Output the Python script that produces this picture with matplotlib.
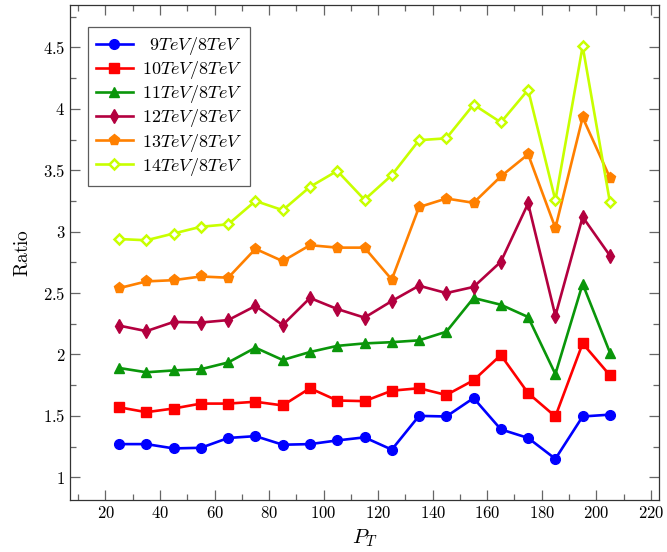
import matplotlib
matplotlib.use('Agg')
import matplotlib.pyplot as plt
from matplotlib.ticker import MultipleLocator, FuncFormatter

plt.rcParams['mathtext.fontset'] = 'cm'
plt.rcParams['font.family'] = 'serif'
plt.rcParams['font.serif'] = ['DejaVu Serif']

pt = [25, 35, 45, 55, 65, 75, 85, 95, 105, 115, 125, 135, 145, 155, 165, 175, 185, 195, 205]

r9 = [1.27, 1.27, 1.235, 1.24, 1.32, 1.335, 1.265, 1.27, 1.30, 1.325, 1.225,
      1.50, 1.495, 1.645, 1.39, 1.32, 1.15, 1.495, 1.51]
r10 = [1.57, 1.53, 1.56, 1.60, 1.60, 1.615, 1.585, 1.725, 1.625, 1.62, 1.705,
       1.725, 1.67, 1.79, 1.995, 1.685, 1.495, 2.09, 1.83]
r11 = [1.89, 1.855, 1.87, 1.88, 1.935, 2.055, 1.955, 2.02, 2.07, 2.09, 2.10,
       2.115, 2.185, 2.46, 2.405, 2.305, 1.84, 2.575, 2.015]
r12 = [2.235, 2.19, 2.265, 2.26, 2.28, 2.395, 2.24, 2.46, 2.37, 2.30, 2.435,
       2.56, 2.50, 2.55, 2.755, 3.23, 2.315, 3.12, 2.805]
r13 = [2.54, 2.595, 2.605, 2.635, 2.625, 2.86, 2.76, 2.89, 2.87, 2.87, 2.61,
       3.20, 3.27, 3.235, 3.45, 3.63, 3.03, 3.93, 3.44]
r14 = [2.94, 2.93, 2.985, 3.04, 3.06, 3.25, 3.175, 3.365, 3.495, 3.26, 3.46,
       3.745, 3.76, 4.035, 3.89, 4.155, 3.255, 4.51, 3.24]

labels = [r'$\ \,9TeV/8TeV$', r'$10TeV/8TeV$', r'$11TeV/8TeV$',
          r'$12TeV/8TeV$', r'$13TeV/8TeV$', r'$14TeV/8TeV$']

fig = plt.figure(figsize=(6.67, 5.52), dpi=100)
ax = fig.add_axes([0.105, 0.094, 0.883, 0.897])

ax.plot(pt, r9, color='#0000ff', marker='o', ms=7, lw=1.9, label=labels[0])
ax.plot(pt, r10, color='#ff0000', marker='s', ms=7, lw=1.9, label=labels[1])
ax.plot(pt, r11, color='#0a960a', marker='^', ms=7.5, lw=1.9, label=labels[2])
ax.plot(pt, r12, color='#b3003f', marker='d', ms=7.5, lw=1.9, label=labels[3])
ax.plot(pt, r13, color='#ff8000', marker='p', ms=8, lw=1.9, label=labels[4])
ax.plot(pt, r14, color='#c8ff00', marker='D', ms=5.5, mfc='white', mew=1.8,
        lw=1.9, label=labels[5])

# pgfplots-style limits: 10% padding around the data range
all_y = r9 + r10 + r11 + r12 + r13 + r14
ypad = 0.1 * (max(all_y) - min(all_y))
xpad = 0.1 * (max(pt) - min(pt))
ax.set_xlim(min(pt) - xpad, max(pt) + xpad)
ax.set_ylim(min(all_y) - ypad, max(all_y) + ypad)

ax.xaxis.set_major_locator(MultipleLocator(20))
ax.xaxis.set_minor_locator(MultipleLocator(10))
ax.yaxis.set_major_locator(MultipleLocator(0.5))
ax.yaxis.set_minor_locator(MultipleLocator(0.25))
ax.xaxis.set_major_formatter(FuncFormatter(lambda v, p: '$%d$' % v))
ax.yaxis.set_major_formatter(FuncFormatter(lambda v, p: ('$%g$' % v)))

ax.tick_params(which='both', direction='in', top=True, right=True,
               color='#666666', labelsize=12)
ax.tick_params(which='major', length=7, width=0.9)
ax.tick_params(which='minor', length=4.5, width=0.9)
for s in ax.spines.values():
    s.set_color('#333333')
    s.set_linewidth(0.9)

ax.set_xlabel(r'$P_T$', fontsize=15)
ax.set_ylabel(r'$\mathrm{Ratio}$', fontsize=14, labelpad=8)

leg = ax.legend(loc='upper left', bbox_to_anchor=(0.031, 0.956), fontsize=13,
                frameon=True, fancybox=False, edgecolor='#333333',
                handlelength=2.0, handletextpad=0.5, labelspacing=0.12,
                borderpad=0.45, borderaxespad=0)
leg.get_frame().set_linewidth(0.9)

fig.savefig('out.png', dpi=100)
